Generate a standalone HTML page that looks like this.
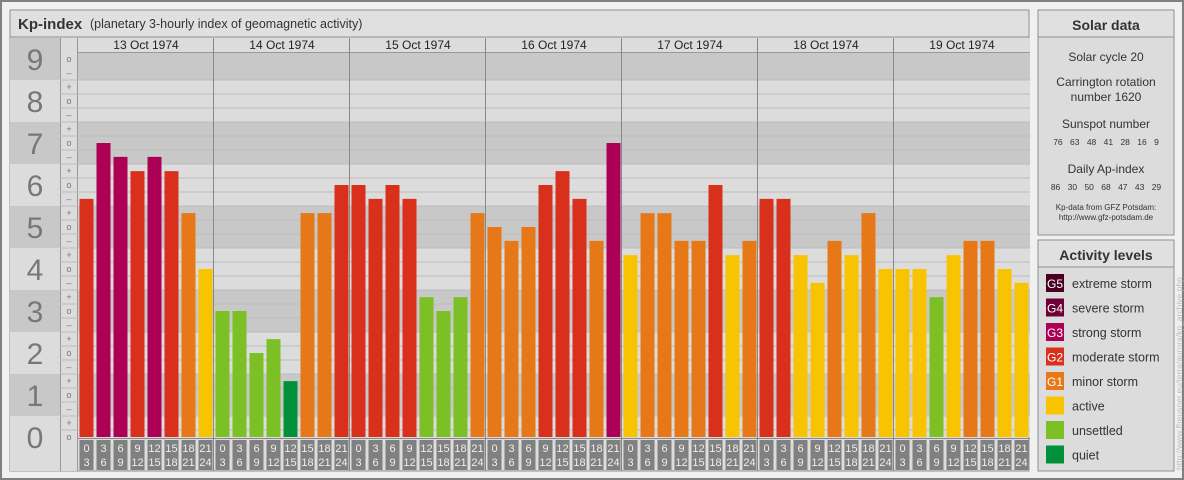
<!DOCTYPE html>
<html><head><meta charset="utf-8"><style>
body{margin:0;background:#f0f0f0;font-family:"Liberation Sans",sans-serif;}
svg{display:block}
</style></head><body>
<svg id="chart" width="1184" height="480" xmlns="http://www.w3.org/2000/svg" font-family="Liberation Sans, sans-serif">
<rect x="1" y="1" width="1182" height="478" fill="#f0f0f0" stroke="#808080" stroke-width="2"/>
<g>
<rect x="10" y="10" width="1019" height="461" fill="#dcdcdc" stroke="#909090"/>
<rect x="10" y="10" width="1019" height="27" fill="#e0e0e0" stroke="#909090"/>
<text x="18" y="29" font-size="15" font-weight="bold" fill="#333">Kp-index</text>
<text x="90" y="28" font-size="12.5" fill="#333">(planetary 3-hourly index of geomagnetic activity)</text>
</g>
<g id="bands"></g>
<g id="grid"></g>
<g id="bars"></g>
<g id="hours"></g>
<g id="days"></g>
<g text-anchor="middle" fill="#333">
<rect x="1038" y="10" width="136" height="225" fill="#dcdcdc" stroke="#909090"/>
<rect x="1038" y="10" width="136" height="27" fill="#e0e0e0" stroke="#909090"/>
<text x="1106" y="30" font-size="14" font-weight="bold">Solar data</text>
<text x="1106" y="61" font-size="12">Solar cycle 20</text>
<text x="1106" y="86" font-size="12">Carrington rotation</text>
<text x="1106" y="101" font-size="12">number 1620</text>
<text x="1106" y="128" font-size="12">Sunspot number</text>
<text x="1106" y="145" font-size="8.5" word-spacing="5">76 63 48 41 28 16 9</text>
<text x="1106" y="173" font-size="12">Daily Ap-index</text>
<text x="1106" y="190" font-size="8.5" word-spacing="5">86 30 50 68 47 43 29</text>
<text x="1106" y="210" font-size="8">Kp-data from GFZ Potsdam:</text>
<text x="1106" y="220" font-size="8">http://www.gfz-potsdam.de</text>
</g>
<g>
<rect x="1038" y="240" width="136" height="231" fill="#dcdcdc" stroke="#909090"/>
<rect x="1038" y="240" width="136" height="27" fill="#e0e0e0" stroke="#909090"/>
<text x="1106" y="260" font-size="14" font-weight="bold" fill="#333" text-anchor="middle">Activity levels</text>
<g id="legend"></g>
</g>
<text transform="translate(1182,470) rotate(-90)" font-size="8.5" fill="#bbb">http://www.fheusner.eu/terra/aurora/kp_archive.php</text>
</svg>
<script>
const days=["13 Oct 1974","14 Oct 1974","15 Oct 1974","16 Oct 1974","17 Oct 1974","18 Oct 1974","19 Oct 1974"];
const kpValues=[
5.67,7,6.67,6.33,6.67,6.33,5.33,4,
3,3,2,2.33,1.33,5.33,5.33,6,
6,5.67,6,5.67,3.33,3,3.33,5.33,
5,4.67,5,6,6.33,5.67,4.67,7,
4.33,5.33,5.33,4.67,4.67,6,4.33,4.67,
5.67,5.67,4.33,3.67,4.67,4.33,5.33,4,
4,4,3.33,4.33,4.67,4.67,4,3.67];
const hourStarts=["0","3","6","9","12","15","18","21"];
const hourEnds=["3","6","9","12","15","18","21","24"];
const levelNames=["extreme storm","severe storm","strong storm","moderate storm","minor storm","active","unsettled","quiet"];
const levelTags=["G5","G4","G3","G2","G1","","",""];
const levelColors=["#4a0020","#6e0038","#ab0055","#d9301c","#e67817","#f8c300","#7cc025","#00913a"];

const NS="http://www.w3.org/2000/svg";
const X0=78,SLOT=17,Y0=437,UNIT=42;
const yS=v=>Y0-v*UNIT;
const xS=i=>X0+i*SLOT;
function mk(p,t,a,txt){const e=document.createElementNS(NS,t);for(const k in a)e.setAttribute(k,a[k]);if(txt!==undefined)e.textContent=txt;p.appendChild(e);return e;}
function colorFor(v){const k=Math.round(v);if(k>=9)return levelColors[0];if(k>=8)return levelColors[1];if(k>=7)return levelColors[2];if(k>=6)return levelColors[3];if(k>=5)return levelColors[4];if(k>=4)return levelColors[5];if(k>=2)return levelColors[6];return levelColors[7];}
const W=days.length*8*SLOT;
const bands=document.getElementById('bands');
for(let k=0;k<=9;k++){
  const top=Math.max(yS(k+0.5),38),bot=Math.min(yS(k-0.5),437);
  const g=mk(bands,'g',{});
  
  
  const fill=k%2?"#c8c8c8":"#dcdcdc";
  mk(g,'rect',{x:10,y:top,width:50,height:(k==0?471:bot)-top,fill:fill});
  mk(g,'rect',{x:X0,y:top,width:W,height:bot-top,fill:fill});
  const t=mk(g,'text',{x:35,y:yS(k)+11,'font-size':30,fill:'#777','text-anchor':'middle'},String(k));
  
  
}
const grid=document.getElementById('grid');
mk(grid,'rect',{x:60,y:38,width:18,height:433,fill:'#dcdcdc'});
mk(grid,'line',{x1:60.5,y1:38,x2:60.5,y2:471,stroke:'#999'});
mk(grid,'line',{x1:77.5,y1:38,x2:77.5,y2:471,stroke:'#999'});
const marks=["–","o","+"];
for(let t=0;t<=28;t++){
  const v=t/3;
  if(v>9.01)break;
  const y=yS(v);
  if(t>0&&t<27){const l=mk(grid,'line',{x1:60,y1:y+7,x2:X0+W,y2:y+7,stroke:'#bdbdbd'});}
  const m=mk(grid,'text',{x:69,y:y+3,'font-size':9,fill:'#777','text-anchor':'middle'},marks[(t+1)%3]==="–"&&t%3==2?"–":(t%3==0?"o":(t%3==1?"+":"–")));
  
  
}
mk(grid,'rect',{x:X0,y:38,width:W,height:14,fill:'#dcdcdc'});
const barsG=document.getElementById('bars');
kpValues.forEach((v,i)=>{
  const r=mk(barsG,'rect',{x:xS(i)+1.5,y:yS(v),width:14,height:Y0-yS(v),fill:colorFor(v)});
  
  
});
const hoursG=document.getElementById('hours');
kpValues.forEach((v,i)=>{
  const h=i%8;
  const g=mk(hoursG,'g',{});
  
  
  mk(g,'rect',{x:xS(i)+1.5,y:440,width:14,height:30,fill:'#808080'});
  mk(g,'text',{x:xS(i)+8.5,y:452,'font-size':11,fill:'#eee','text-anchor':'middle'},hourStarts[h]);
  mk(g,'text',{x:xS(i)+8.5,y:466,'font-size':11,fill:'#eee','text-anchor':'middle'},hourEnds[h]);
});
const daysG=document.getElementById('days');
mk(daysG,'line',{x1:X0,y1:52.5,x2:X0+W,y2:52.5,stroke:'#999'});
mk(daysG,'line',{x1:X0,y1:438.5,x2:X0+W,y2:438.5,stroke:'#888'});
days.forEach((d,j)=>{
  const x=X0+j*8*SLOT;
  const t=mk(daysG,'text',{x:x+68,y:49,'font-size':12,fill:'#222','text-anchor':'middle'},d);
  
  
  if(j>0)mk(daysG,'line',{x1:x-0.5,y1:38,x2:x-0.5,y2:471,stroke:'#888'});
});
const lg=document.getElementById('legend');
levelNames.forEach((n,i)=>{
  const y=274+i*24.5;
  const g=mk(lg,'g',{});
  
  
  mk(g,'rect',{x:1046,y:y,width:18,height:18,fill:levelColors[i]});
  if(levelTags[i])mk(g,'text',{x:1055,y:y+14,'font-size':12,fill:'#fff','text-anchor':'middle'},levelTags[i]);
  mk(g,'text',{x:1072,y:y+14,'font-size':12.5,fill:'#333'},n);
});
</script>
</body></html>
